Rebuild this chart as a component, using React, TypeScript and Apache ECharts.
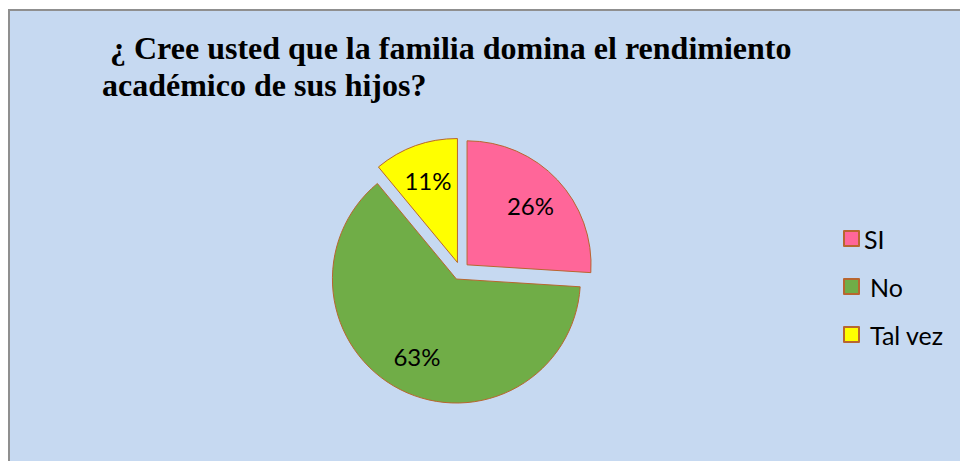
import React, { useEffect, useRef } from "react";
import * as echarts from "echarts";

const titleLines = ["¿ Cree usted que la familia domina el rendimiento", "académico de sus hijos?"];
const categories = ["SI", "No", "Tal vez"];
const values = [26, 63, 11];
const colors = ["#ff6699", "#70ad47", "#ffff00"];

export default function App() {
  const ref = useRef<HTMLDivElement>(null);
  useEffect(() => {
    document.body.style.margin = "0";
    const chart = echarts.init(ref.current!, null, { renderer: "svg" });
    const border = "#b8662f";
    const labelFont = "Lato";
    const pieData = categories.map((name, i) => ({
      name,
      value: values[i],
      selected: true,
      itemStyle: { color: colors[i], borderColor: border, borderWidth: 1 },
    }));
    const labelData = categories.map((name, i) => ({
      name,
      value: values[i],
      selected: true,
    }));
    chart.setOption({
      animation: false,
      backgroundColor: "#ffffff",
      graphic: [
        {
          type: "rect",
          z: -10,
          shape: { x: 9, y: 10, width: 960, height: 460 },
          style: { fill: "#c6d9f1", stroke: "#8f8f8f", lineWidth: 2 },
        },
      ],
      title: [
        {
          text: titleLines[0],
          left: 110,
          top: 32,
          padding: 0,
          textStyle: { fontFamily: "Liberation Serif", fontWeight: "bold", fontSize: 32, lineHeight: 32, color: "#000" },
        },
        {
          text: titleLines[1],
          left: 102,
          top: 69,
          padding: 0,
          textStyle: { fontFamily: "Liberation Serif", fontWeight: "bold", fontSize: 32, lineHeight: 32, color: "#000" },
        },
      ],
      legend: {
        orient: "vertical",
        left: 843,
        top: 226,
        padding: 0,
        itemWidth: 15,
        itemHeight: 15,
        itemGap: 23,
        icon: "rect",
        selectedMode: false,
        data: categories.map((name, i) => ({
          name,
          textStyle: { padding: [0, 0, 0, i === 0 ? 0 : 6] },
        })),
        textStyle: { fontFamily: labelFont, fontSize: 25, lineHeight: 25, color: "#000" },
      },
      series: [
        {
          type: "pie",
          center: [460.5, 271],
          radius: [0, 124],
          startAngle: 90,
          clockwise: true,
          selectedMode: "multiple",
          selectedOffset: 9,
          label: { show: false },
          labelLine: { show: false },
          emphasis: { disabled: true },
          select: { itemStyle: { borderColor: border, borderWidth: 1 } },
          data: pieData,
        },
        {
          type: "pie",
          center: [460.5, 271],
          radius: [44, 124],
          startAngle: 90,
          clockwise: true,
          silent: true,
          selectedMode: "multiple",
          selectedOffset: 9,
          legendHoverLink: false,
          percentPrecision: 0,
          itemStyle: { color: "transparent", borderWidth: 0 },
          select: { itemStyle: { color: "transparent", borderWidth: 0 } },
          emphasis: { disabled: true },
          label: {
            show: true,
            position: "inside",
            formatter: "{d}%",
            fontFamily: labelFont,
            fontSize: 24,
            color: "#000",
          },
          labelLine: { show: false },
          data: labelData,
        },
      ],
    });
    return () => chart.dispose();
  }, []);
  return <div ref={ref} style={{ width: 960, height: 461 }} />;
}
